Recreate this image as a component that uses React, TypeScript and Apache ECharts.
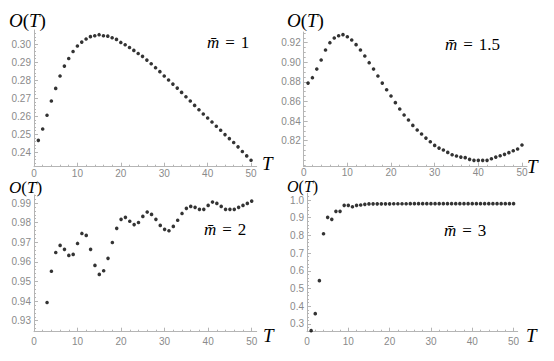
import React, { useEffect, useRef } from 'react';
import * as echarts from 'echarts';

// ---- data ----
const T_ALL = [1,2,3,4,5,6,7,8,9,10,11,12,13,14,15,16,17,18,19,20,21,22,23,24,25,26,27,28,29,30,31,32,33,34,35,36,37,38,39,40,41,42,43,44,45,46,47,48,49,50];
const T_FROM3 = [3,4,5,6,7,8,9,10,11,12,13,14,15,16,17,18,19,20,21,22,23,24,25,26,27,28,29,30,31,32,33,34,35,36,37,38,39,40,41,42,43,44,45,46,47,48,49,50];

const O_M1 = [0.2466,0.2529,0.2605,0.2684,0.2754,0.2823,0.2878,0.2920,0.2959,0.2989,0.3011,0.3028,0.3041,0.3046,0.3052,0.3046,0.3044,0.3035,0.3026,0.3009,0.2996,0.2981,0.2965,0.2948,0.2932,0.2911,0.2891,0.2869,0.2847,0.2823,0.2801,0.2778,0.2756,0.2732,0.2708,0.2684,0.2660,0.2636,0.2612,0.2590,0.2568,0.2544,0.2522,0.2498,0.2476,0.2454,0.2430,0.2404,0.2380,0.2356];
const O_M15 = [0.8788,0.8843,0.8931,0.9023,0.9125,0.9200,0.9248,0.9271,0.9282,0.9261,0.9227,0.9180,0.9125,0.9064,0.8996,0.8931,0.8860,0.8788,0.8720,0.8656,0.8588,0.8523,0.8462,0.8411,0.8356,0.8309,0.8268,0.8227,0.8190,0.8152,0.8125,0.8105,0.8081,0.8057,0.8044,0.8033,0.8027,0.8010,0.8000,0.8000,0.8000,0.8000,0.8016,0.8033,0.8047,0.8061,0.8078,0.8098,0.8115,0.8156];
const O_M2 = [0.9393,0.9552,0.9648,0.9684,0.9664,0.9633,0.9638,0.9694,0.9745,0.9735,0.9664,0.9582,0.9536,0.9555,0.9618,0.9699,0.9771,0.9817,0.9827,0.9807,0.9790,0.9801,0.9832,0.9854,0.9842,0.9817,0.9786,0.9766,0.9759,0.9781,0.9812,0.9847,0.9873,0.9883,0.9878,0.9868,0.9868,0.9888,0.9905,0.9898,0.9883,0.9868,0.9868,0.9868,0.9878,0.9888,0.9898,0.9910];
const O_M3 = [0.2623,0.3584,0.5449,0.8098,0.9021,0.8908,0.9360,0.9360,0.9699,0.9699,0.9623,0.9699,0.9720,0.9755,0.9780,0.9785,0.9785,0.9785,0.9785,0.9785,0.9790,0.9790,0.9790,0.9790,0.9795,0.9795,0.9795,0.9795,0.9795,0.9795,0.9795,0.9795,0.9795,0.9795,0.9795,0.9795,0.9795,0.9795,0.9795,0.9795,0.9795,0.9795,0.9795,0.9795,0.9795,0.9795,0.9795,0.9795,0.9795,0.9795];

const X_TICKS = [0, 10, 20, 30, 40, 50];
const Y_TICKS_M1 = [0.24, 0.25, 0.26, 0.27, 0.28, 0.29, 0.30];
const Y_TICKS_M15 = [0.82, 0.84, 0.86, 0.88, 0.90, 0.92];
const Y_TICKS_M2 = [0.93, 0.94, 0.95, 0.96, 0.97, 0.98, 0.99];
const Y_TICKS_M3 = [0.3, 0.4, 0.5, 0.6, 0.7, 0.8, 0.9, 1.0];

const LABEL_M = ['1', '1.5', '2', '3'];

// ---- helpers ----
function minorTicks(min: number, max: number, step: number, majors: number[]) {
  const out: number[] = [];
  const start = Math.ceil(min / step - 1e-9);
  for (let k = start; k * step <= max + 1e-9; k++) {
    const v = Math.round(k * step * 1e6) / 1e6;
    if (!majors.some((m) => Math.abs(m - v) < 1e-7)) out.push(v);
  }
  return out;
}

const AXIS_COLOR = '#b5b5b5';
const LABEL_COLOR = '#8a8a8a';
const SANS = 'Liberation Sans';
const SERIF = 'Liberation Serif';

type Panel = {
  left: number; top: number; width: number; height: number;
  xMax: number; yMin: number; yMax: number;
  yTicks: number[]; yMinorStep: number; decimals: number;
  xs: number[]; ys: number[];
  xLabelMargin: number;
};

const panels: Panel[] = [
  { left: 34, top: 30, width: 222.7, height: 136.7, xMax: 51.3, yMin: 0.2320, yMax: 0.3078,
    yTicks: Y_TICKS_M1, yMinorStep: 0.002, decimals: 2, xs: T_ALL, ys: O_M1, xLabelMargin: 2 },
  { left: 303.7, top: 32, width: 223.3, height: 134.7, xMax: 51.15, yMin: 0.7935, yMax: 0.9309,
    yTicks: Y_TICKS_M15, yMinorStep: 0.005, decimals: 2, xs: T_ALL, ys: O_M15, xLabelMargin: 1 },
  { left: 34, top: 195, width: 222.7, height: 136.7, xMax: 51.15, yMin: 0.9244, yMax: 0.9941,
    yTicks: Y_TICKS_M2, yMinorStep: 0.002, decimals: 2, xs: T_FROM3, ys: O_M2, xLabelMargin: 5 },
  { left: 307, top: 193.3, width: 210.7, height: 138.4, xMax: 51.0, yMin: 0.2565, yMax: 1.038,
    yTicks: Y_TICKS_M3, yMinorStep: 0.02, decimals: 1, xs: T_ALL, ys: O_M3, xLabelMargin: 5 },
];

const oPos = [[9, 20], [287, 20], [9, 187.5], [287, 186.5]];
const oSize = [19, 19, 17, 16];
const tPos = [[262, 163], [527, 166], [263, 335], [526, 335]];
const mPos = [[207, 42], [445, 44], [204, 229], [444, 230]];

function buildOption() {
  const grid: any[] = [];
  const xAxis: any[] = [];
  const yAxis: any[] = [];
  const series: any[] = [];
  const graphic: any[] = [];

  panels.forEach((p, i) => {
    grid.push({ left: p.left, top: p.top, width: p.width, height: p.height, containLabel: false });
    const xMinor = minorTicks(0, p.xMax, 2, X_TICKS);
    const yMinor = minorTicks(p.yMin, p.yMax, p.yMinorStep, p.yTicks);
    xAxis.push({
      type: 'value', gridIndex: i, position: 'bottom', min: 0, max: p.xMax,
      axisLine: { show: true, onZero: false, lineStyle: { color: AXIS_COLOR, width: 1 } },
      axisTick: { show: true, inside: true, length: 4, lineStyle: { color: AXIS_COLOR }, customValues: X_TICKS },
      axisLabel: { show: true, customValues: X_TICKS, color: LABEL_COLOR, fontSize: 10, fontFamily: SANS, margin: p.xLabelMargin },
      splitLine: { show: false },
    });
    xAxis.push({
      type: 'value', gridIndex: i, position: 'bottom', offset: 0, min: 0, max: p.xMax,
      axisLine: { show: false, onZero: false },
      axisTick: { show: true, inside: true, length: 2, lineStyle: { color: AXIS_COLOR }, customValues: xMinor },
      axisLabel: { show: false },
      splitLine: { show: false },
    });
    yAxis.push({
      type: 'value', gridIndex: i, position: 'left', min: p.yMin, max: p.yMax,
      axisLine: { show: true, onZero: false, lineStyle: { color: AXIS_COLOR, width: 1 } },
      axisTick: { show: true, inside: true, length: 4, lineStyle: { color: AXIS_COLOR }, customValues: p.yTicks },
      axisLabel: {
        show: true, customValues: p.yTicks, color: LABEL_COLOR, fontSize: 10, fontFamily: SANS, margin: 3,
        formatter: (v: number) => v.toFixed(p.decimals),
      },
      splitLine: { show: false },
    });
    yAxis.push({
      type: 'value', gridIndex: i, position: 'left', offset: 0, min: p.yMin, max: p.yMax,
      axisLine: { show: false, onZero: false },
      axisTick: { show: true, inside: true, length: 2, lineStyle: { color: AXIS_COLOR }, customValues: yMinor },
      axisLabel: { show: false },
      splitLine: { show: false },
    });
    series.push({
      type: 'scatter', xAxisIndex: 2 * i, yAxisIndex: 2 * i,
      data: p.xs.map((t, k) => [t, p.ys[k]]),
      symbol: 'circle', symbolSize: 3.6,
      itemStyle: { color: '#000' },
      silent: true,
    });

    const os = oSize[i];
    graphic.push({
      type: 'text', x: oPos[i][0], y: oPos[i][1],
      style: {
        text: '{i|O}{u|(}{i|T}{u|)}', fill: '#000',
        fontFamily: SERIF, fontSize: os,
        verticalAlign: 'middle', align: 'left',
        rich: {
          i: { fontStyle: 'italic', fontFamily: SERIF, fontSize: os, fill: '#000' },
          u: { fontStyle: 'normal', fontFamily: SERIF, fontSize: os, fill: '#000' },
        },
      },
    });
    graphic.push({
      type: 'text', x: tPos[i][0], y: tPos[i][1],
      style: {
        text: 'T', fill: '#000', fontFamily: SERIF, fontSize: 19, fontStyle: 'italic',
        verticalAlign: 'middle', align: 'left',
      },
    });
    graphic.push({
      type: 'text', x: mPos[i][0], y: mPos[i][1],
      style: {
        text: '{m|m\u0304}{e|=}{n|' + LABEL_M[i] + '}', fill: '#000',
        fontFamily: SERIF, fontSize: 17,
        verticalAlign: 'middle', align: 'left',
        rich: {
          m: { fontStyle: 'italic', fontFamily: SERIF, fontSize: 17, fill: '#000' },
          e: { fontFamily: SERIF, fontSize: 17, padding: [0, 6, 0, 6], fill: '#000' },
          n: { fontFamily: SERIF, fontSize: 17, fill: '#000' },
        },
      },
    });
  });

  return { animation: false, backgroundColor: '#ffffff', grid, xAxis, yAxis, series, graphic };
}

export default function App() {
  const ref = useRef<HTMLDivElement>(null);
  useEffect(() => {
    if (!ref.current) return;
    const chart = echarts.init(ref.current, undefined, { renderer: 'svg' });
    chart.setOption(buildOption() as any);
    return () => chart.dispose();
  }, []);
  return (
    <div
      ref={ref}
      style={{ position: 'fixed', left: 0, top: 0, width: 554, height: 361, background: '#fff' }}
    />
  );
}
